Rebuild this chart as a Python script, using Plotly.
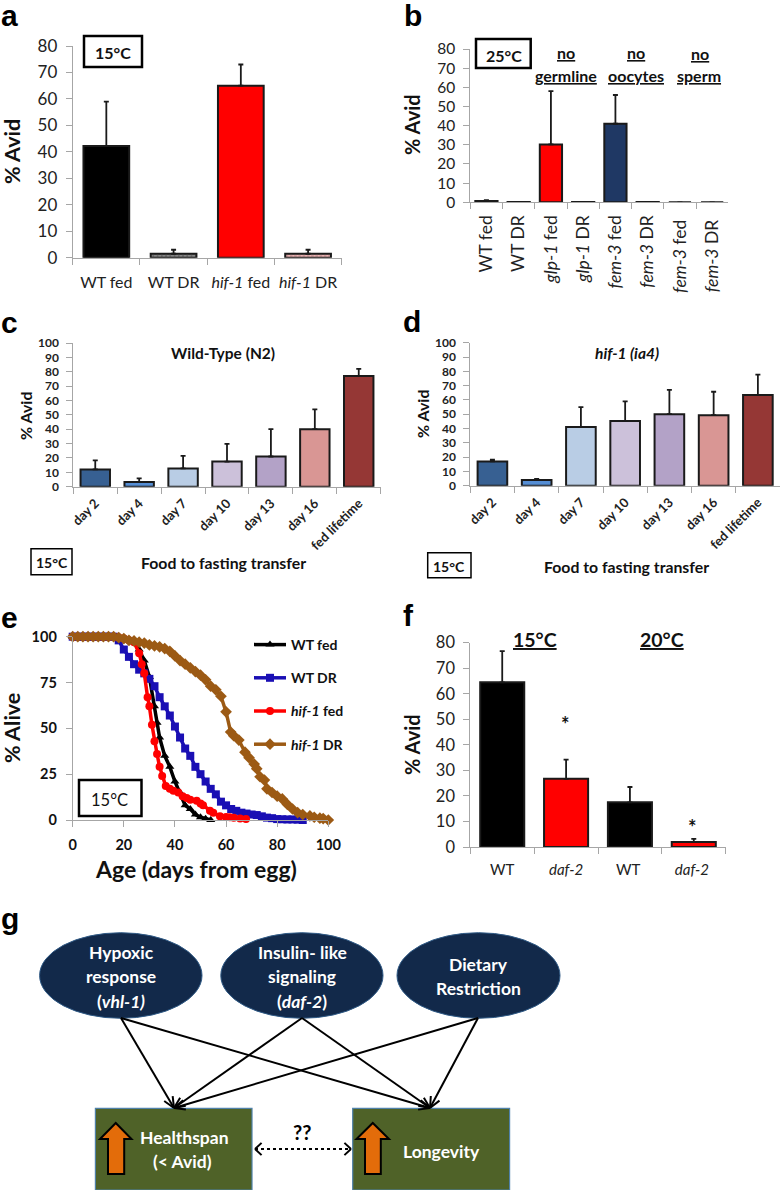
import math
import plotly.graph_objects as go

W, H = 780, 1190
SANS = "Lato"
HEAD = "Liberation Sans"
GRAY = "#a6a6a6"
INK = "#1a1a1a"

# --- panel a
a_cats = ["WT fed", "WT DR", "<i>hif-1</i> fed", "<i>hif-1</i> DR"]
a_vals = [42.2, 1.5, 65, 1.5]
a_errs = [16.8, 1.5, 8, 1.5]
a_cols = ["#000000", "#6e6e6e", "#ff0000", "#f0b4b4"]
# --- panel b
b_cats = ["WT fed", "WT DR", "<i>glp-1</i> fed", "<i>glp-1</i> DR",
          "<i>fem-3</i> fed", "<i>fem-3</i> DR", "<i>fem-3</i> fed ", "<i>fem-3</i> DR "]
b_vals = [0.7, 0.1, 30.2, 0.1, 41, 0.1, 0, 0]
b_errs = [0.4, 0, 27.8, 0, 15, 0, 0, 0]
b_cols = ["#000000", "#000000", "#ff0000", "#000000", "#1f3864", "#000000", "#000000", "#000000"]
# --- panels c, d
day_cats = ["day 2", "day 4", "day 7", "day 10", "day 13", "day 16", "fed lifetime"]
day_cols = ["#376092", "#558ed5", "#b9cde5", "#ccc1da", "#b3a2c7", "#d99694", "#953735"]
c_vals = [12, 3.2, 12.7, 17.5, 21, 40, 77]
c_errs = [6.3, 2.6, 8.8, 12.3, 19, 13.8, 5]
d_vals = [17, 4, 41, 45.3, 50, 49.3, 63.5]
d_errs = [1.2, 0.8, 14, 13.7, 17, 16.4, 14.2]
# --- panel e
wtfed_x = [0, 2, 4, 6, 8, 10, 12, 14, 16, 18, 20, 22, 24, 26, 28, 30, 32, 33, 34, 36, 38, 40, 42, 44, 46, 48, 50, 52, 54]
wtfed_y = [100, 100, 100, 100, 100, 100, 100, 100, 100, 99.5, 99, 98, 97, 93, 87, 78, 62, 53, 45, 35, 29, 21, 15, 8, 6, 3, 1.5, 0.7, 0]
wtdr_x = [0, 2, 4, 6, 8, 10, 12, 14, 16, 18, 20, 22, 24, 26, 28, 30, 32, 34, 36, 38, 40, 42, 44, 46, 48, 50, 52, 54,
          56, 58, 60, 62, 64, 66, 68, 70, 72, 74, 76, 78, 80, 82, 84, 86, 88, 90]
wtdr_y = [100, 100, 100, 100, 100, 100, 100, 100, 100, 98, 93, 89, 85, 82, 80, 77, 73, 67, 62, 57, 51, 45, 39, 35, 29, 25, 21, 17,
          14, 10, 8, 6, 5, 4, 3.5, 3, 2.7, 2, 1.3, 1, 0.5, 0.4, 0.3, 0.3, 0.2, 0]
hiffed_x = [0, 2, 4, 6, 8, 10, 12, 14, 16, 18, 20, 22, 24, 26, 27, 28, 29.3, 30, 31, 32, 33, 34, 35, 36.4, 38, 39.4, 41.3, 43, 44.6,
            46, 48.5, 50, 51, 53.7, 55, 57.6, 60, 61.5, 63, 65.5, 67.8]
hiffed_y = [100, 100, 100, 100, 100, 100, 100, 100, 100, 99.5, 99, 98, 97, 91, 85, 80, 67, 62, 52, 43, 36, 29, 24, 18.5, 17, 16, 15, 13, 12,
            11, 10.5, 9, 8, 5, 4, 2, 1.7, 1.5, 1.2, 0.8, 0.5]
hifdr_x = [0, 2, 4, 6, 8, 10, 12, 14, 16, 18, 20, 22, 24, 26, 28, 30, 32, 34, 36, 38, 40, 42, 44, 46, 48, 50, 52, 54, 56, 58,
           60, 61.8, 63, 65, 67.4, 69, 71, 72, 73.3, 75, 76, 78, 80, 82, 84, 86, 88, 90, 92.8, 94.5, 96.7, 98, 100]
hifdr_y = [100, 100, 100, 100, 100, 100, 100, 100, 100, 99.5, 99, 98, 97.7, 97, 96.5, 95.5, 95, 94.5, 93.5, 92, 89.5, 87, 85, 83, 81, 79, 76.5, 73, 71, 67.5,
           59, 48, 46, 43.6, 37, 34, 30.5, 28, 23.6, 21.8, 17, 15, 13, 11.5, 8.5, 6, 4, 3, 2.2, 1.5, 1, 0.8, 0]
# --- panel f
f_cats = ["WT", "<i>daf-2</i>", "WT ", "<i>daf-2</i> "]
f_vals = [64.5, 26.7, 17.5, 2]
f_errs = [12.2, 7.5, 6, 1.2]
f_cols = ["#000000", "#ff0000", "#000000", "#ff0000"]


def px(x):
    return x / W


def py(y):
    return 1 - y / H


fig = go.Figure()
layout = {}
annos = []
shapes = []


def text(x, y, s, size, bold=False, color="#111111", family=SANS, angle=0):
    annos.append(dict(xref="paper", yref="paper", x=px(x), y=py(y), text=f"<b>{s}</b>" if bold else s,
                      showarrow=False, xanchor="center", yanchor="middle", textangle=angle,
                      font=dict(size=size, color=color, family=family)))


def rect(x0, y0, x1, y1, lw, color="#000000", fill=None):
    shapes.append(dict(type="rect", xref="paper", yref="paper", x0=px(x0), x1=px(x1), y0=py(y0), y1=py(y1),
                       line=dict(color=color, width=lw), fillcolor=fill, layer="above"))


def axes(n, xdom, ydom, yrange, dtick, font, yfont, angle=0, standoff=6, ylen=6):
    sfx = "" if n == 1 else str(n)
    layout["xaxis" + sfx] = dict(domain=[px(xdom[0]), min(1, px(xdom[1]))], anchor="y" + sfx, showgrid=False, zeroline=False,
                                 showline=True, linecolor=GRAY, linewidth=1, ticks="outside", tickcolor=GRAY,
                                 ticklen=6, tickson="boundaries", tickangle=angle, tickfont=font,
                                 ticklabelstandoff=standoff, type="category", automargin=False)
    layout["yaxis" + sfx] = dict(domain=[py(ydom[1]), py(ydom[0])], anchor="x" + sfx, range=yrange, dtick=dtick,
                                 showgrid=False, zeroline=False, showline=True, linecolor=GRAY, linewidth=1,
                                 ticks="outside", tickcolor=GRAY, ticklen=ylen, tickfont=yfont,
                                 ticklabelstandoff=5, automargin=False)


def bars(n, cats, vals, errs, cols, width, lw=2, capw=2.5, thick=1.8, pattern=None):
    sfx = "" if n == 1 else str(n)
    marker = dict(color=cols, line=dict(color=INK, width=lw))
    if pattern:
        marker["pattern"] = pattern
    fig.add_trace(go.Bar(x=cats, y=vals, xaxis="x" + sfx, yaxis="y" + sfx, width=width, marker=marker,
                         showlegend=False,
                         error_y=dict(type="data", symmetric=False, array=errs, arrayminus=[0] * len(errs),
                                      color=INK, thickness=thick, width=capw)))
    layout["xaxis" + sfx].update(categoryorder="array", categoryarray=cats)


big = dict(size=16, family=SANS, color="#222222")
small_bold = dict(size=12, family=SANS, color="#222222", weight="bold")
day_font = dict(size=13, family=SANS, color="#222222", weight="bold")

# a
axes(1, (72.7, 341.7), (46, 257.7), [0, 80], 10, big, dict(size=17, family=SANS, color="#222222"), standoff=10)
bars(1, a_cats, a_vals, a_errs, a_cols, 0.68,
     pattern=dict(shape=["", "x", "", "x"], size=3, fgcolor="#333333", solidity=0.3))
# b
axes(2, (470.3, 728.3), (49, 202.3), [0, 80], 10, dict(size=17.5, family=SANS, color="#222222"),
     dict(size=15.5, family=SANS, color="#222222"), angle=-90, standoff=5)
bars(2, b_cats, b_vals, b_errs, b_cols, 0.69)
# c
axes(3, (73.3, 380.7), (343, 486.7), [0, 100], 10, day_font, small_bold, angle=-45, standoff=3)
bars(3, day_cats, c_vals, c_errs, day_cols, 0.67)
# d
axes(4, (470.3, 780), (342.7, 485.7), [0, 100], 10, day_font, small_bold, angle=-45, standoff=3)
bars(4, day_cats, d_vals, d_errs, day_cols, 0.67)
# e
layout["xaxis5"] = dict(domain=[px(72.7), px(328.3)], anchor="y5", range=[0, 100], dtick=20, showgrid=False,
                        zeroline=False, showline=True, linecolor=GRAY, ticks="outside", tickcolor=GRAY, ticklen=6,
                        ticklabelstandoff=6, tickfont=dict(size=14.5, family=SANS, color="#111111", weight="bold"))
layout["yaxis5"] = dict(domain=[py(820), py(636.7)], anchor="x5", range=[0, 100], dtick=25, showgrid=False,
                        zeroline=False, showline=True, linecolor=GRAY, ticks="outside", tickcolor=GRAY, ticklen=6,
                        ticklabelstandoff=6, tickfont=dict(size=14.5, family=SANS, color="#111111", weight="bold"))
for name, xs, ys, col, sym, sz in [
    ("<b>WT fed</b>", wtfed_x, wtfed_y, "#000000", "triangle-up", 8),
    ("<b>WT DR</b>", wtdr_x, wtdr_y, "#1a0fb4", "square", 8),
    ("<b><i>hif-1</i> fed</b>", hiffed_x, hiffed_y, "#ff0000", "circle", 8),
    ("<b><i>hif-1</i> DR</b>", hifdr_x, hifdr_y, "#9c5a14", "diamond", 9),
]:
    fig.add_trace(go.Scatter(x=xs, y=ys, xaxis="x5", yaxis="y5", mode="lines+markers", name=name,
                             legendgroup=name, cliponaxis=False,
                             line=dict(color=col, width=3.5), marker=dict(color=col, symbol=sym, size=sz)))
# f
axes(6, (470.3, 725.7), (642.7, 847), [0, 80], 10, dict(size=15, family=SANS, color="#222222"),
     dict(size=16.5, family=SANS, color="#222222"), standoff=9)
bars(6, f_cats, f_vals, f_errs, f_cols, 0.69)

# panel letters
for s, x, y in [("a", 9, 16), ("b", 412.5, 16), ("c", 9, 323), ("d", 412, 322),
                ("e", 9, 617), ("f", 408, 615), ("g", 10, 918)]:
    text(x, y, s, 30, True, "#000000", HEAD)

# axis titles
text(12, 152, "% Avid", 21.5, True, angle=-90)
text(412, 125, "% Avid", 20, True, angle=-90)
text(25, 415, "% Avid", 16, True, angle=-90)
text(422, 414, "% Avid", 16, True, angle=-90)
text(12, 728, "% Alive", 21.5, True, angle=-90)
text(412, 745, "% Avid", 20, True, angle=-90)
text(196, 869, "Age (days from egg)", 23, True)

# a, b notes
rect(84, 36, 142, 67, 2.5)
text(113, 53, "15°C", 16, True)
rect(476, 39, 530.7, 68, 2.5)
text(503.5, 55, "25°C", 16, True)
for s, x, y in [("no", 565.7, 53), ("germline", 565.7, 75), ("no", 635.7, 53), ("oocytes", 635.7, 75),
                ("no", 700, 54), ("sperm", 699, 75)]:
    text(x, y, f"<u>{s}</u>", 16, True)

# c, d notes
rect(31, 548.7, 72, 574.7, 1.5)
text(52, 562, "15°C", 14, True)
text(224, 562, "Food to fasting transfer", 15.8, True)
text(222.7, 352.7, "Wild-Type (N2)", 15.5, True)
rect(427.7, 552.7, 471, 577.7, 1.5)
text(449, 566, "15°C", 14, True)
text(626, 566.7, "Food to fasting transfer", 15.8, True)
text(626.7, 352.7, "<i>hif-1 (ia4)</i>", 15.5, True)

# e note
rect(79, 780, 141.5, 816, 2.5)
text(109, 800, "15°C", 16.5)

# f notes
text(535, 639, "<u>15°C</u>", 19.5, True)
text(662, 639, "<u>20°C</u>", 19.5, True)
text(565, 724, "*", 20, True)
text(692.7, 827, "*", 20, True)


# panel g diagram
def seg(x0, y0, x1, y1, lw=2, dash="solid"):
    shapes.append(dict(type="line", xref="paper", yref="paper", x0=px(x0), y0=py(y0), x1=px(x1), y1=py(y1),
                       line=dict(color="#000000", width=lw, dash=dash), layer="above"))


def head(x0, y0, x1, y1, size=12, spread=0.42, lw=2):
    ang = math.atan2(y1 - y0, x1 - x0)
    for d in (-spread, spread):
        seg(x1, y1, x1 - size * math.cos(ang + d), y1 - size * math.sin(ang + d), lw)


ellipses = [(39.6, 202), (220.8, 383), (397, 560)]
for x0, x1 in ellipses:
    shapes.append(dict(type="circle", xref="paper", yref="paper", x0=px(x0), x1=px(x1), y0=py(932.7), y1=py(1018.3),
                       fillcolor="#12294a", line=dict(color="#2f5a86", width=1), layer="below"))
for x0, x1 in [(95.4, 252), (352.7, 509.6)]:
    shapes.append(dict(type="rect", xref="paper", yref="paper", x0=px(x0), x1=px(x1), y0=py(1108.3), y1=py(1190),
                       fillcolor="#4f6228", line=dict(color="#4f81a8", width=1.2), layer="below"))
for sx in (121, 302, 478):
    for tx in (174, 430):
        seg(sx, 1018, tx, 1108)
        head(sx, 1018, tx, 1108)


def up_arrow(x0, x1, xs0, xs1):
    mid_x = (x0 + x1) / 2
    pts = [(xs0, 1174), (xs0, 1139), (x0, 1139), (mid_x, 1123), (x1, 1139), (xs1, 1139), (xs1, 1174)]
    path = "M " + " L ".join(f"{px(a):.5f} {py(b):.5f}" for a, b in pts) + " Z"
    shapes.append(dict(type="path", xref="paper", yref="paper", path=path, fillcolor="#e36c0a",
                       line=dict(color="#000000", width=2), layer="above"))


up_arrow(100, 131.5, 108, 124.2)
up_arrow(356.5, 389, 365, 380.8)
seg(255, 1149, 351, 1149, 2, "dot")
head(351, 1149, 255, 1149, 9, 0.75, 2)
head(255, 1149, 351, 1149, 9, 0.75, 2)

WHITE = "#ffffff"
for s, x, y in [("Hypoxic", 121, 952.3), ("response", 121, 976.7), ("(<i>vhl-1)</i>", 121, 1001),
                ("Insulin- like", 302, 952.3), ("signaling", 302, 976.7), ("(<i>daf-2</i>)", 302, 1001),
                ("Dietary", 478.8, 964), ("Restriction", 478.8, 988.7),
                ("Healthspan", 184.6, 1137.7), ("(&lt; Avid)", 182.7, 1161.7), ("Longevity", 441, 1151)]:
    annos.append(dict(xref="paper", yref="paper", x=px(x), y=py(y), text=f"<b>{s}</b>", showarrow=False, xanchor="center",
                      yanchor="middle", font=dict(size=17.5, color=WHITE, family=SANS)))
text(302, 1131.7, "??", 20, True, "#000000")

fig.update_layout(width=W, height=H, margin=dict(l=0, r=0, t=0, b=0, autoexpand=False), paper_bgcolor="white",
                  plot_bgcolor="white", bargap=0.3, annotations=annos, shapes=shapes,
                  legend=dict(x=px(249), y=py(629), xanchor="left", yanchor="top", bgcolor="rgba(0,0,0,0)",
                              itemwidth=32, tracegroupgap=12, font=dict(size=14, family=SANS, color="#111111")),
                  **layout)
fig.write_html("out.html", config={"displayModeBar": False},
               post_script="document.body.style.margin='0';document.documentElement.style.overflow='hidden';")
